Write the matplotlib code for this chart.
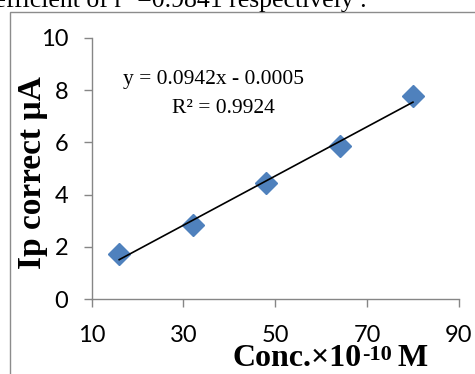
import matplotlib
matplotlib.use("Agg")
import matplotlib.pyplot as plt
from matplotlib.patches import Rectangle

# data
conc = [16, 32, 48, 64, 80]          # Conc. x 10^-10 M
ip = [1.72, 2.83, 4.46, 5.84, 7.79]  # Ip correct (uA)
slope = 0.0942
intercept = -0.0005
r2 = 0.9924
x_ticks = [10, 30, 50, 70, 90]
y_ticks = [0, 2, 4, 6, 8, 10]

fig = plt.figure(figsize=(4.75, 3.74), dpi=100)
ax = fig.add_axes([0.193, 0.2005, 0.773, 0.6985])

# trend line from the fitted equation
fit_x = [conc[0], conc[-1]]
fit_y = [slope * v + intercept for v in fit_x]
ax.plot(conc, ip, linestyle='none', marker='D', markersize=11.5,
        color='#4F81BD', markeredgecolor='#4F81BD', zorder=2)
ax.plot(fit_x, fit_y, color='black', linewidth=1.2, zorder=3)

ax.set_xlim(10, 90)
ax.set_ylim(0, 10)
ax.set_xticks(x_ticks)
ax.set_yticks(y_ticks)

for s in ['top', 'right']:
    ax.spines[s].set_visible(False)
for s in ['left', 'bottom']:
    ax.spines[s].set_color('#868686')
    ax.spines[s].set_linewidth(1.0)
ax.tick_params(axis='both', colors='#868686', labelcolor='black', length=6,
               width=1.0, labelsize=17)
ax.tick_params(axis='y', pad=11)
ax.tick_params(axis='x', pad=13)
for lab in ax.get_xticklabels() + ax.get_yticklabels():
    lab.set_family('Lato')

# equation labels
ax.text(0.0845, 0.8217, 'y = %.4fx - %.4f' % (slope, -intercept),
        transform=ax.transAxes, family='Liberation Serif', fontsize=15.5,
        va='baseline', ha='left')
ax.text(0.218, 0.7107, 'R² = %.4f' % r2, transform=ax.transAxes,
        family='Liberation Serif', fontsize=15.5, va='baseline', ha='left')

# axis titles
fig.text(33 / 475, 1 - 172.5 / 374, 'Ip correct µA', rotation=90,
         family='Liberation Serif', fontweight='bold', fontsize=24,
         ha='center', va='center')
bold = dict(family='Liberation Serif', fontweight='bold')
t1 = fig.text(232 / 475, 1 - 366 / 374, 'Conc.×10', fontsize=23,
              ha='left', va='baseline', **bold)
t2 = ax.annotate('-10', xy=(1, 0), xycoords=t1, xytext=(0.5, 9.5),
                 textcoords='offset points', fontsize=16, ha='left',
                 va='baseline', **bold)
ax.annotate('M', xy=(1, 0), xycoords=(t2, t1), xytext=(4, 0),
            textcoords='offset points', fontsize=23, ha='left',
            va='bottom', **bold)

# page text and chart frame cut by the crop
fig.text(367 / 475, 1 - 7.5 / 374, 'coefficient of r² =0.9841 respectively .',
         family='Liberation Serif', fontsize=18.5, ha='right', va='baseline')
fig.patches.append(Rectangle((10 / 475, -0.2), 1.2, 1 - 12 / 374 + 0.2,
                             transform=fig.transFigure, fill=False,
                             edgecolor='#8c8c8c', linewidth=1.0))

fig.savefig('out.png', dpi=100)
